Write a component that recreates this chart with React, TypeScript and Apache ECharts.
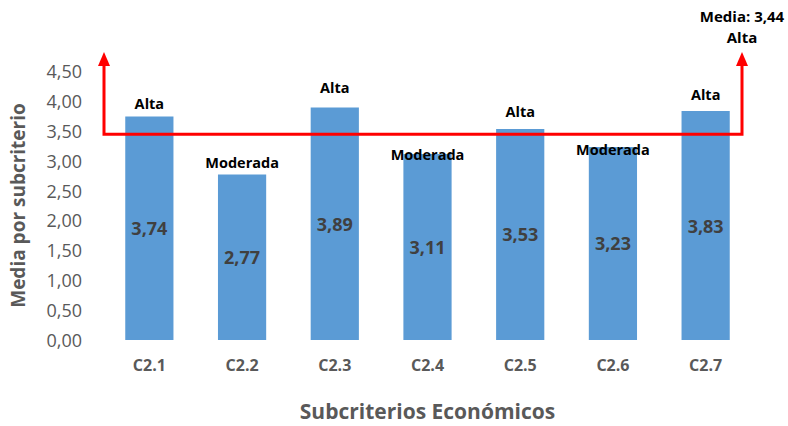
import React, { useEffect, useRef } from "react";
import * as echarts from "echarts";

const categories = ["C2.1", "C2.2", "C2.3", "C2.4", "C2.5", "C2.6", "C2.7"];
const values = [3.74, 2.77, 3.89, 3.11, 3.53, 3.23, 3.83];
const levels = ["Alta", "Moderada", "Alta", "Moderada", "Alta", "Moderada", "Alta"];
const meanValue = 3.44;
const meanLevel = "Alta";
const yMin = 0;
const yMax = 4.5;
const yInterval = 0.5;

// hand-placed vertical nudges of the level labels (styling only)
const levelLabelNudge = [-3, -2, -10, 10, -7, 13, -7];

const fmt = (v: number) => v.toFixed(2).replace(".", ",");

const FONT = "'Open Sans', 'Noto Sans', sans-serif";
const GRID = { left: 101, right: 36, top: 71, bottom: 74 };
const W = 788;
const H = 426;

export default function App() {
  const ref = useRef<HTMLDivElement>(null);
  useEffect(() => {
    if (!ref.current) return;
    const chart = echarts.init(ref.current, undefined, { renderer: "svg" });
    chart.setOption({
      animation: false,
      backgroundColor: "#ffffff",
      grid: { ...GRID, containLabel: false },
      xAxis: {
        type: "category",
        data: categories,
        axisLine: { show: false },
        axisTick: { show: false },
        axisLabel: {
          color: "#595959",
          fontWeight: "bold",
          fontSize: 16,
          fontFamily: FONT,
          margin: 17,
        },
        name: "Subcriterios Económicos",
        nameLocation: "middle",
        nameGap: 60,
        nameTextStyle: {
          color: "#595959",
          fontWeight: "bold",
          fontSize: 21,
          fontFamily: FONT,
        },
      },
      yAxis: {
        type: "value",
        min: yMin,
        max: yMax,
        interval: yInterval,
        splitLine: { show: false },
        axisLine: { show: false },
        axisTick: { show: false },
        axisLabel: {
          color: "#595959",
          fontSize: 18,
          fontFamily: FONT,
          margin: 21,
          formatter: (v: number) => fmt(v),
        },
        name: "Media por subcriterio",
        nameLocation: "middle",
        nameGap: 76,
        nameRotate: 90,
        nameTextStyle: {
          color: "#595959",
          fontWeight: "bold",
          fontSize: 19,
          fontFamily: FONT,
        },
      },
      series: [
        {
          type: "bar",
          data: values,
          barWidth: "52%",
          itemStyle: { color: "#5B9BD5" },
          label: {
            show: true,
            position: "inside",
            color: "#404040",
            fontWeight: "bold",
            fontSize: 18,
            fontFamily: FONT,
            formatter: (p: any) => fmt(p.value),
          },
          z: 2,
        },
        {
          type: "bar",
          data: values.map((v, i) => ({
            value: v,
            label: { offset: [0, levelLabelNudge[i]] },
          })),
          barWidth: "52%",
          barGap: "-100%",
          itemStyle: { color: "rgba(0,0,0,0)" },
          label: {
            show: true,
            position: "top",
            distance: 0,
            color: "#000000",
            fontWeight: "bold",
            fontSize: 14.5,
            lineHeight: 20,
            fontFamily: FONT,
            formatter: (p: any) => levels[p.dataIndex],
          },
          z: 3,
        },
      ],
    });

    const yLine = chart.convertToPixel({ yAxisIndex: 0 }, meanValue) as number;
    const xL = GRID.left + 3;
    const xR = W - GRID.right - 10;
    const tipY = 52;
    const headH = 14;
    const headW = 6;
    const red = "#ff0000";
    chart.setOption({
      graphic: [
        {
          type: "polyline",
          shape: {
            points: [
              [xL, tipY + headH - 1],
              [xL, yLine],
              [xR, yLine],
              [xR, tipY + headH - 1],
            ],
          },
          style: { stroke: red, lineWidth: 3, fill: "none" },
          z: 10,
        },
        {
          type: "polygon",
          shape: { points: [[xL, tipY], [xL - headW, tipY + headH], [xL + headW, tipY + headH]] },
          style: { fill: red },
          z: 10,
        },
        {
          type: "polygon",
          shape: { points: [[xR, tipY], [xR - headW, tipY + headH], [xR + headW, tipY + headH]] },
          style: { fill: red },
          z: 10,
        },
        {
          type: "text",
          x: xR,
          y: 5,
          style: {
            text: "Media: " + fmt(meanValue) + "\n" + meanLevel,
            align: "center",
            verticalAlign: "top",
            fill: "#000000",
            fontWeight: "bold",
            fontSize: 15,
            fontFamily: FONT,
            lineHeight: 21,
          },
          z: 10,
        },
      ],
    });
    return () => chart.dispose();
  }, []);
  return <div ref={ref} style={{ width: W, height: H, position: "absolute", left: 0, top: 0 }} />;
}
